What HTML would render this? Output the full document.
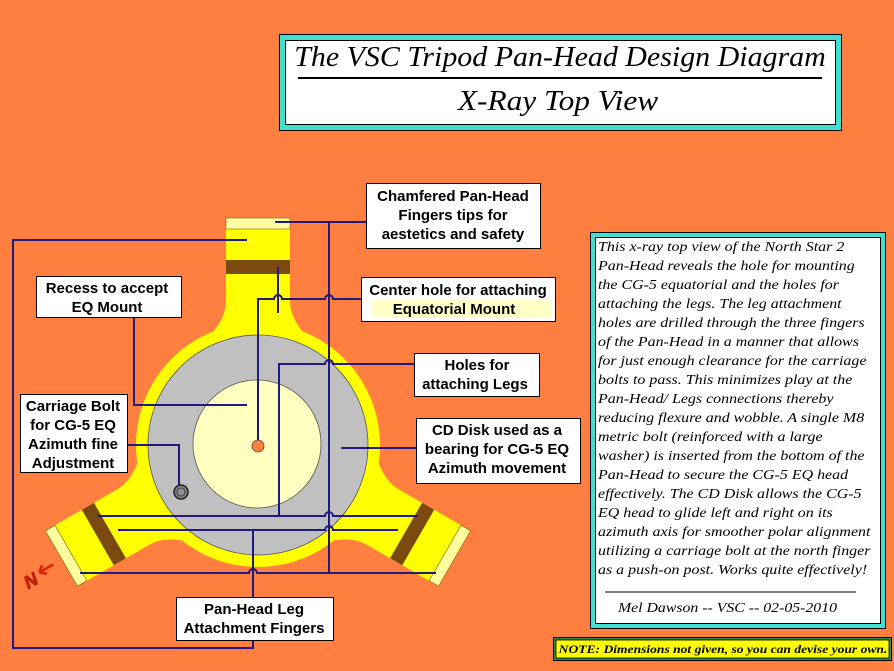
<!DOCTYPE html>
<html><head><meta charset="utf-8"><style>
html,body{margin:0;padding:0;background:#FF7F40;}
svg{display:block}
.lb{font-family:"Liberation Sans",Arial,sans-serif;font-weight:bold;font-size:15px;fill:#000}
.it{font-family:"Liberation Serif",serif;font-style:italic;font-size:14px;fill:#000}
</style></head><body>
<svg width="894" height="671" viewBox="0 0 894 671" xmlns="http://www.w3.org/2000/svg">
<rect width="894" height="671" fill="#FF7F40"/>
<!-- title -->
<rect x="279.5" y="34.5" width="562" height="96" fill="#40E0D0" stroke="#000"/>
<rect x="285.5" y="40.5" width="550" height="84" fill="#fff" stroke="#000"/>
<g transform="translate(560,0) scale(1.07,1)">
<text x="0" y="66" text-anchor="middle" font-family="Liberation Serif,serif" font-style="italic" font-size="28">The VSC Tripod Pan-Head Design Diagram</text>
</g>
<line x1="298" y1="78" x2="822" y2="78" stroke="#000" stroke-width="2"/>
<g transform="translate(558,0) scale(1.12,1)">
<text x="0" y="110" text-anchor="middle" font-family="Liberation Serif,serif" font-style="italic" font-size="28">X-Ray Top View</text>
</g>

<!-- pan head -->
<g id="finger">
<rect x="226" y="218" width="64" height="140" fill="#FFFF00"/>
<rect x="226" y="218" width="64" height="11" fill="#FFFFA0" stroke="#806000" stroke-width="0.6"/>
<rect x="226" y="260" width="64" height="14" fill="#7A4A10"/>
<path d="M226,300 Q226,334 172,362 L344,362 Q290,334 290,300 Z" fill="#FFFF00"/>
</g>
<use href="#finger" transform="rotate(120 258 445)"/>
<use href="#finger" transform="rotate(240 258 445)"/>
<circle cx="258" cy="445" r="122" fill="#FFFF00"/>
<circle cx="258" cy="445" r="110" fill="#C0C0C0" stroke="#555" stroke-width="0.8"/>
<circle cx="257" cy="444" r="64" fill="#FFFFC0" stroke="#555" stroke-width="0.8"/>
<circle cx="258" cy="446" r="6" fill="#FF7F40" stroke="#444" stroke-width="0.8"/>
<circle cx="181" cy="492" r="7" fill="#808080" stroke="#222" stroke-width="1.5"/>
<circle cx="181" cy="492" r="4" fill="#909090" stroke="#333" stroke-width="0.8"/>

<!-- connectors -->
<g fill="none" stroke="#1E1A80" stroke-width="2">
<path d="M366,222 H275"/>
<path d="M329,222 V573"/>
<path d="M80,573 H249 a4,4 0 0 1 8,0 H436"/>
<path d="M247,240 H13 V648 H253 V640"/>
<path d="M253,597 V530"/>
<path d="M118,530 H325 a4,4 0 0 1 8,0 H398"/>
<path d="M98,516 H325 a4,4 0 0 1 8,0 H418"/>
<path d="M279,516 V364 H325 a4,4 0 0 1 8,0 H414"/>
<path d="M278,267 V313"/>
<path d="M361,299 H333 a4,4 0 0 0 -8,0 H282 a4,4 0 0 0 -8,0 H258 V440"/>
<path d="M134,317 V405 H247"/>
<path d="M127,445 H179 V485"/>
<path d="M341,448 H416"/>
</g>

<!-- label boxes -->
<g fill="#fff" stroke="#000" stroke-width="1">
<rect x="366.5" y="183.5" width="174" height="65"/>
<rect x="361.5" y="277.5" width="194" height="44"/>
<rect x="36.5" y="276.5" width="145" height="41"/>
<rect x="414.5" y="353.5" width="125" height="43"/>
<rect x="20.5" y="394.5" width="107" height="78"/>
<rect x="416.5" y="418.5" width="164" height="65"/>
<rect x="176.5" y="597.5" width="157" height="43"/>
</g>
<rect x="372" y="300" width="180" height="18" fill="#FFFFC8"/>
<g class="lb" text-anchor="middle">
<text x="453" y="201">Chamfered Pan-Head</text>
<text x="453" y="220">Fingers tips for</text>
<text x="453" y="239">aestetics and safety</text>
<text x="458" y="295">Center hole for attaching</text>
<text x="454" y="314">Equatorial Mount</text>
<text x="107" y="293">Recess to accept</text>
<text x="107" y="312">EQ Mount</text>
<text x="477" y="370">Holes for</text>
<text x="475" y="389">attaching Legs</text>
<text x="73" y="411">Carriage Bolt</text>
<text x="73" y="430">for  CG-5 EQ</text>
<text x="73" y="449">Azimuth fine</text>
<text x="73" y="468">Adjustment</text>
<text x="497" y="435">CD Disk used as a</text>
<text x="497" y="454">bearing for CG-5 EQ</text>
<text x="497" y="473">Azimuth movement</text>
<text x="254" y="614">Pan-Head Leg</text>
<text x="254" y="633">Attachment Fingers</text>
</g>

<!-- north arrow -->
<g transform="rotate(-30 35 575)">
<text x="22" y="584" font-family="Liberation Sans,sans-serif" font-weight="bold" font-style="italic" font-size="18" fill="#E02000" stroke="#801000" stroke-width="0.6">N</text>
<path d="M40,575 H56 M40,575 l6,-5 M40,575 l6,5" stroke="#E02000" stroke-width="2.5" fill="none"/>
</g>

<!-- description box -->
<rect x="590.5" y="232.5" width="295" height="396" fill="#40E0D0" stroke="#000"/>
<rect x="595.5" y="237.5" width="285" height="386" fill="#fff" stroke="#000"/>
<g class="it" transform="translate(598,0) scale(1.14,1)">
<text x="0" y="251">This x-ray top view of the North Star 2</text>
<text x="0" y="270">Pan-Head reveals the hole for mounting</text>
<text x="0" y="289">the CG-5 equatorial and the holes for</text>
<text x="0" y="308">attaching the legs. The leg attachment</text>
<text x="0" y="327">holes are drilled through the three fingers</text>
<text x="0" y="346">of the Pan-Head in a manner that allows</text>
<text x="0" y="365">for just enough clearance for the carriage</text>
<text x="0" y="384">bolts to pass. This minimizes play at the</text>
<text x="0" y="403">Pan-Head/ Legs connections thereby</text>
<text x="0" y="422">reducing flexure and wobble. A single M8</text>
<text x="0" y="441">metric bolt (reinforced with a large</text>
<text x="0" y="460">washer) is inserted from the bottom of the</text>
<text x="0" y="479">Pan-Head to secure the CG-5 EQ head</text>
<text x="0" y="498">effectively. The CD Disk allows the CG-5</text>
<text x="0" y="517">EQ head to glide left and right on its</text>
<text x="0" y="536">azimuth axis for smoother polar alignment</text>
<text x="0" y="555">utilizing a carriage bolt at the north finger</text>
<text x="0" y="574">as a push-on post. Works quite effectively!</text>
</g>
<line x1="605" y1="592" x2="856" y2="592" stroke="#000" stroke-width="1"/>
<g class="it" transform="translate(618,0) scale(1.13,1)">
<text x="0" y="612">Mel Dawson -- VSC -- 02-05-2010</text>
</g>

<!-- note -->
<rect x="553.5" y="637.5" width="338" height="23" fill="#2E8B57" stroke="#000"/>
<rect x="556" y="640" width="333" height="18" fill="#FFFF00" stroke="#000" stroke-width="0.8"/>
<g transform="translate(723,0) scale(1.13,1)">
<text x="0" y="653" text-anchor="middle" font-family="Liberation Serif,serif" font-style="italic" font-weight="bold" font-size="12">NOTE: Dimensions not given, so you can devise your own.</text>
</g>
</svg>
</body></html>
